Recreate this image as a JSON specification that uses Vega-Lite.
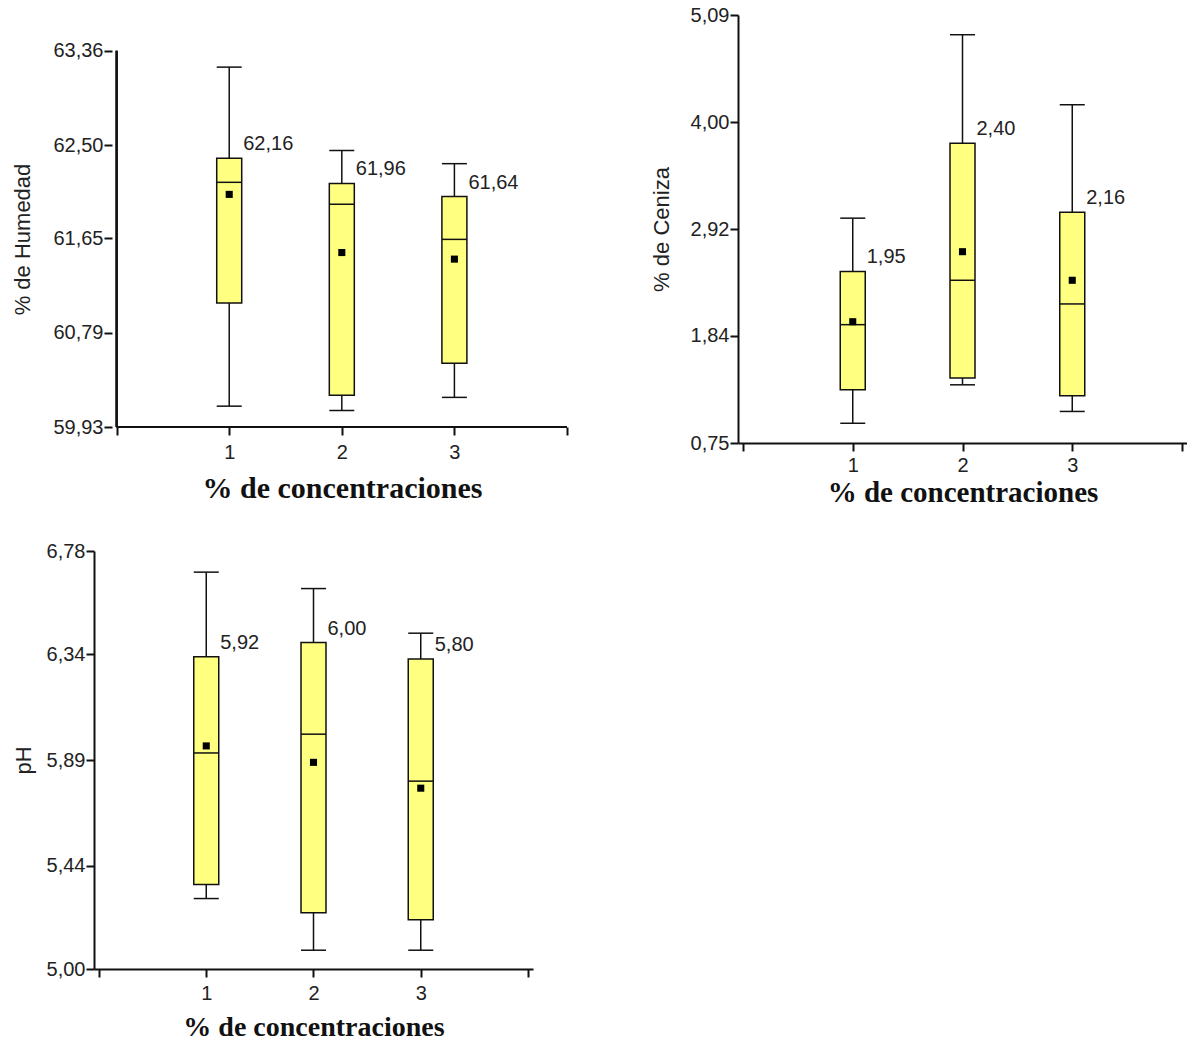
{
  "$schema": "https://vega.github.io/schema/vega-lite/v6.json",
  "background": "white",
  "padding": {"left": 11, "top": 5, "right": 0, "bottom": 0},
  "datasets": {
    "humedad": [
      {"g": 1, "wb": 60.12, "q1": 61.06, "med": 62.16, "q3": 62.38, "wt": 63.21, "mean": 62.05, "lab": "62,16"},
      {"g": 2, "wb": 60.08, "q1": 60.22, "med": 61.96, "q3": 62.15, "wt": 62.45, "mean": 61.52, "lab": "61,96"},
      {"g": 3, "wb": 60.20, "q1": 60.51, "med": 61.64, "q3": 62.03, "wt": 62.33, "mean": 61.46, "lab": "61,64"}
    ],
    "ceniza": [
      {"g": 1, "wb": 0.95, "q1": 1.29, "med": 1.95, "q3": 2.49, "wt": 3.03, "mean": 1.98, "lab": "1,95"},
      {"g": 2, "wb": 1.34, "q1": 1.41, "med": 2.40, "q3": 3.79, "wt": 4.89, "mean": 2.69, "lab": "2,40"},
      {"g": 3, "wb": 1.07, "q1": 1.23, "med": 2.16, "q3": 3.09, "wt": 4.18, "mean": 2.40, "lab": "2,16"}
    ],
    "ph": [
      {"g": 1, "wb": 5.30, "q1": 5.36, "med": 5.92, "q3": 6.33, "wt": 6.69, "mean": 5.95, "lab": "5,92"},
      {"g": 2, "wb": 5.08, "q1": 5.24, "med": 6.00, "q3": 6.39, "wt": 6.62, "mean": 5.88, "lab": "6,00"},
      {"g": 3, "wb": 5.08, "q1": 5.21, "med": 5.80, "q3": 6.32, "wt": 6.43, "mean": 5.77, "lab": "5,80"}
    ]
  },
  "config": {
    "view": {"stroke": null},
    "axis": {
      "grid": false,
      "domainColor": "#111111",
      "domainWidth": 2,
      "tickColor": "#111111",
      "tickWidth": 2,
      "tickSize": 8,
      "labelFont": "Liberation Sans",
      "labelFontSize": 20,
      "labelColor": "#222222",
      "titleFont": "Liberation Sans",
      "titleFontSize": 22,
      "titleFontWeight": "normal",
      "titleColor": "#222222"
    },
    "axisX": {
      "titleFont": "Liberation Serif",
      "titleFontSize": 30,
      "titleFontWeight": "bold",
      "titleColor": "#111111",
      "labelPadding": 7
    },
    "axisY": {"labelPadding": 1}
  },
  "columns": 2,
  "spacing": {"row": 34, "column": 78},
  "concat": [
    {
      "width": 478,
      "height": 412,
      "data": {"name": "humedad"},
      "encoding": {
        "x": {"field": "g", "type": "quantitative", "scale": {"domain": [-0.1565, 4], "nice": false, "zero": false},
              "axis": {"values": [0, 1, 2, 3, 4], "domain": false, "labelExpr": "datum.value >= 1 && datum.value <= 3 ? datum.label : ''", "title": "% de concentraciones", "titlePadding": 11, "titleX": 248}}
      },
      "layer": [
        {"mark": {"type": "rule", "color": "#111111", "strokeWidth": 1.5},
         "encoding": {"y": {"field": "wb", "type": "quantitative", "scale": {"domain": [59.93, 63.685], "nice": false, "zero": false},
                            "axis": {"values": [59.93, 60.79, 61.65, 62.5, 63.36], "domain": false, "offset": -18, "labelExpr": "replace(format(datum.value, '.2f'), '.', ',')", "title": "% de Humedad", "titlePadding": 18, "titleY": 224}},
                      "y2": {"field": "wt"}}},
        {"mark": {"type": "rule", "color": "#111111", "strokeWidth": 2},
         "encoding": {"x": {"datum": 0}, "y": {"datum": 59.93}, "y2": {"datum": 63.36}}},
        {"mark": {"type": "rule", "color": "#111111", "strokeWidth": 2},
         "encoding": {"x": {"datum": 0}, "x2": {"datum": 4}, "y": {"datum": 59.93}}},
        {"mark": {"type": "bar", "width": 25, "fill": "#ffff80", "stroke": "#111111", "strokeWidth": 1.5},
         "encoding": {"y": {"field": "q1", "type": "quantitative"}, "y2": {"field": "q3"}}},
        {"mark": {"type": "tick", "orient": "horizontal", "size": 25, "thickness": 1.5, "color": "#111111", "opacity": 1},
         "encoding": {"y": {"field": "med", "type": "quantitative"}}},
        {"mark": {"type": "tick", "orient": "horizontal", "size": 25, "thickness": 1.5, "color": "#111111", "opacity": 1},
         "encoding": {"y": {"field": "wt", "type": "quantitative"}}},
        {"mark": {"type": "tick", "orient": "horizontal", "size": 25, "thickness": 1.5, "color": "#111111", "opacity": 1},
         "encoding": {"y": {"field": "wb", "type": "quantitative"}}},
        {"mark": {"type": "point", "shape": "square", "filled": true, "size": 50, "color": "#000000", "opacity": 1},
         "encoding": {"y": {"field": "mean", "type": "quantitative"}}},
        {"mark": {"type": "text", "align": "left", "baseline": "alphabetic", "dx": 14, "dy": -8, "fontSize": 20, "font": "Liberation Sans", "color": "#222222"},
         "encoding": {"y": {"field": "q3", "type": "quantitative"}, "text": {"field": "lab"}}}
      ]
    },
    {
      "width": 449,
      "height": 428,
      "data": {"name": "ceniza"},
      "encoding": {
        "x": {"field": "g", "type": "quantitative", "scale": {"domain": [0, 4], "nice": false, "zero": false},
              "axis": {"values": [0, 1, 2, 3, 4], "labelExpr": "datum.value >= 1 && datum.value <= 3 ? datum.label : ''", "title": "% de concentraciones", "titleFontSize": 29, "titlePadding": 3, "labelPadding": 4}}
      },
      "layer": [
        {"mark": {"type": "rule", "color": "#111111", "strokeWidth": 1.5},
         "encoding": {"y": {"field": "wb", "type": "quantitative", "scale": {"domain": [0.75, 5.09], "nice": false, "zero": false},
                            "axis": {"values": [0.75, 1.84, 2.92, 4.0, 5.09], "labelExpr": "replace(format(datum.value, '.2f'), '.', ',')", "title": "% de Ceniza", "titlePadding": 17}},
                      "y2": {"field": "wt"}}},
        {"mark": {"type": "bar", "width": 25, "fill": "#ffff80", "stroke": "#111111", "strokeWidth": 1.5},
         "encoding": {"y": {"field": "q1", "type": "quantitative"}, "y2": {"field": "q3"}}},
        {"mark": {"type": "tick", "orient": "horizontal", "size": 25, "thickness": 1.5, "color": "#111111", "opacity": 1},
         "encoding": {"y": {"field": "med", "type": "quantitative"}}},
        {"mark": {"type": "tick", "orient": "horizontal", "size": 25, "thickness": 1.5, "color": "#111111", "opacity": 1},
         "encoding": {"y": {"field": "wt", "type": "quantitative"}}},
        {"mark": {"type": "tick", "orient": "horizontal", "size": 25, "thickness": 1.5, "color": "#111111", "opacity": 1},
         "encoding": {"y": {"field": "wb", "type": "quantitative"}}},
        {"mark": {"type": "point", "shape": "square", "filled": true, "size": 50, "color": "#000000", "opacity": 1},
         "encoding": {"y": {"field": "mean", "type": "quantitative"}}},
        {"mark": {"type": "text", "align": "left", "baseline": "alphabetic", "dx": 14, "dy": -8, "fontSize": 20, "font": "Liberation Sans", "color": "#222222"},
         "encoding": {"y": {"field": "q3", "type": "quantitative"}, "text": {"field": "lab"}}}
      ]
    },
    {
      "width": 439,
      "height": 418,
      "data": {"name": "ph"},
      "encoding": {
        "x": {"field": "g", "type": "quantitative", "scale": {"domain": [0, 4], "nice": false, "zero": false},
              "axis": {"values": [0, 1, 2, 3, 4], "labelExpr": "datum.value >= 1 && datum.value <= 3 ? datum.label : ''", "title": "% de concentraciones", "titleFontSize": 28, "titlePadding": 10, "labelPadding": 6}}
      },
      "layer": [
        {"mark": {"type": "rule", "color": "#111111", "strokeWidth": 1.5},
         "encoding": {"y": {"field": "wb", "type": "quantitative", "scale": {"domain": [5.0, 6.78], "nice": false, "zero": false},
                            "axis": {"values": [5.0, 5.44, 5.89, 6.34, 6.78], "labelExpr": "replace(format(datum.value, '.2f'), '.', ',')", "title": "pH", "titlePadding": 11}},
                      "y2": {"field": "wt"}}},
        {"mark": {"type": "bar", "width": 25, "fill": "#ffff80", "stroke": "#111111", "strokeWidth": 1.5},
         "encoding": {"y": {"field": "q1", "type": "quantitative"}, "y2": {"field": "q3"}}},
        {"mark": {"type": "tick", "orient": "horizontal", "size": 25, "thickness": 1.5, "color": "#111111", "opacity": 1},
         "encoding": {"y": {"field": "med", "type": "quantitative"}}},
        {"mark": {"type": "tick", "orient": "horizontal", "size": 25, "thickness": 1.5, "color": "#111111", "opacity": 1},
         "encoding": {"y": {"field": "wt", "type": "quantitative"}}},
        {"mark": {"type": "tick", "orient": "horizontal", "size": 25, "thickness": 1.5, "color": "#111111", "opacity": 1},
         "encoding": {"y": {"field": "wb", "type": "quantitative"}}},
        {"mark": {"type": "point", "shape": "square", "filled": true, "size": 50, "color": "#000000", "opacity": 1},
         "encoding": {"y": {"field": "mean", "type": "quantitative"}}},
        {"mark": {"type": "text", "align": "left", "baseline": "alphabetic", "dx": 14, "dy": -8, "fontSize": 20, "font": "Liberation Sans", "color": "#222222"},
         "encoding": {"y": {"field": "q3", "type": "quantitative"}, "text": {"field": "lab"}}}
      ]
    }
  ]
}
